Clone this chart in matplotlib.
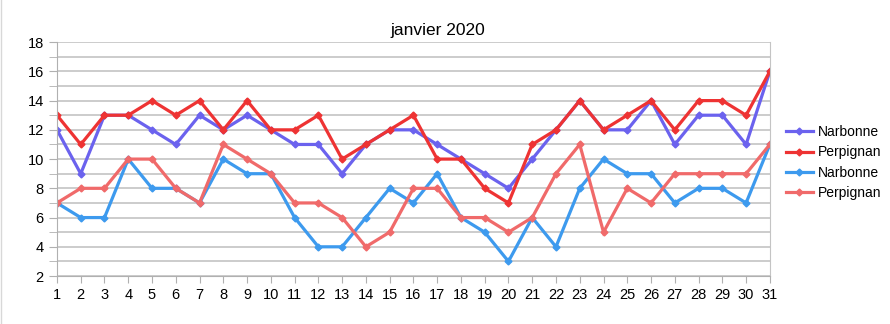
import matplotlib
matplotlib.use("Agg")
import matplotlib.pyplot as plt
from matplotlib.ticker import MultipleLocator

plt.rcParams['font.family'] = ['Liberation Sans', 'DejaVu Sans']

days = list(range(1, 32))
narbonne_max = [12, 9, 13, 13, 12, 11, 13, 12, 13, 12, 11, 11, 9, 11, 12, 12, 11, 10, 9, 8, 10, 12, 14, 12, 12, 14, 11, 13, 13, 11, 16]
perpignan_max = [13, 11, 13, 13, 14, 13, 14, 12, 14, 12, 12, 13, 10, 11, 12, 13, 10, 10, 8, 7, 11, 12, 14, 12, 13, 14, 12, 14, 14, 13, 16]
narbonne_min = [7, 6, 6, 10, 8, 8, 7, 10, 9, 9, 6, 4, 4, 6, 8, 7, 9, 6, 5, 3, 6, 4, 8, 10, 9, 9, 7, 8, 8, 7, 11]
perpignan_min = [7, 8, 8, 10, 10, 8, 7, 11, 10, 9, 7, 7, 6, 4, 5, 8, 8, 6, 6, 5, 6, 9, 11, 5, 8, 7, 9, 9, 9, 9, 11]
labels = ["Narbonne", "Perpignan", "Narbonne", "Perpignan"]
colors = ["#6b62ee", "#ee3333", "#3d9aee", "#f06a6a"]
title = "janvier 2020"

fig = plt.figure(figsize=(8.9, 3.24), dpi=100)
ax = fig.add_axes([0.064, 0.148, 0.801, 0.722])

for vals, lab, col in zip([narbonne_max, perpignan_max, narbonne_min, perpignan_min], labels, colors):
    ax.plot(days, vals, color=col, lw=2.3, marker='D', ms=3.5, label=lab,
            solid_joinstyle='miter')

ax.set_xlim(1, 31)
ax.set_ylim(2, 18)
ax.set_xticks(days)
ax.yaxis.set_major_locator(MultipleLocator(2))
ax.yaxis.set_minor_locator(MultipleLocator(1))
ax.grid(True, which='both', axis='y', color='#c4c4c4', lw=1.2)
ax.set_axisbelow(True)
ax.spines['top'].set_visible(False)
ax.spines['right'].set_color('#c4c4c4')
ax.spines['left'].set_color('#b0b0b0')
ax.spines['bottom'].set_color('#b0b0b0')
ax.tick_params(axis='both', which='both', colors='#b0b0b0', labelcolor='black', labelsize=10.5)
ax.tick_params(axis='y', which='both', length=6)
ax.tick_params(axis='x', length=5)
fig.text(0.492, 0.905, title, fontsize=12.5, ha='center', va='center')

leg = ax.legend(loc='center left', bbox_to_anchor=(1.022, 0.485), frameon=False,
                fontsize=10, handlelength=2.0, handletextpad=0.35, labelspacing=0.45,
                borderaxespad=0, borderpad=0)

fig.add_artist(plt.Line2D([0.0015, 0.0015], [0, 1], transform=fig.transFigure, color='#d8d8d8', lw=1))

fig.savefig("out.png", dpi=100)
